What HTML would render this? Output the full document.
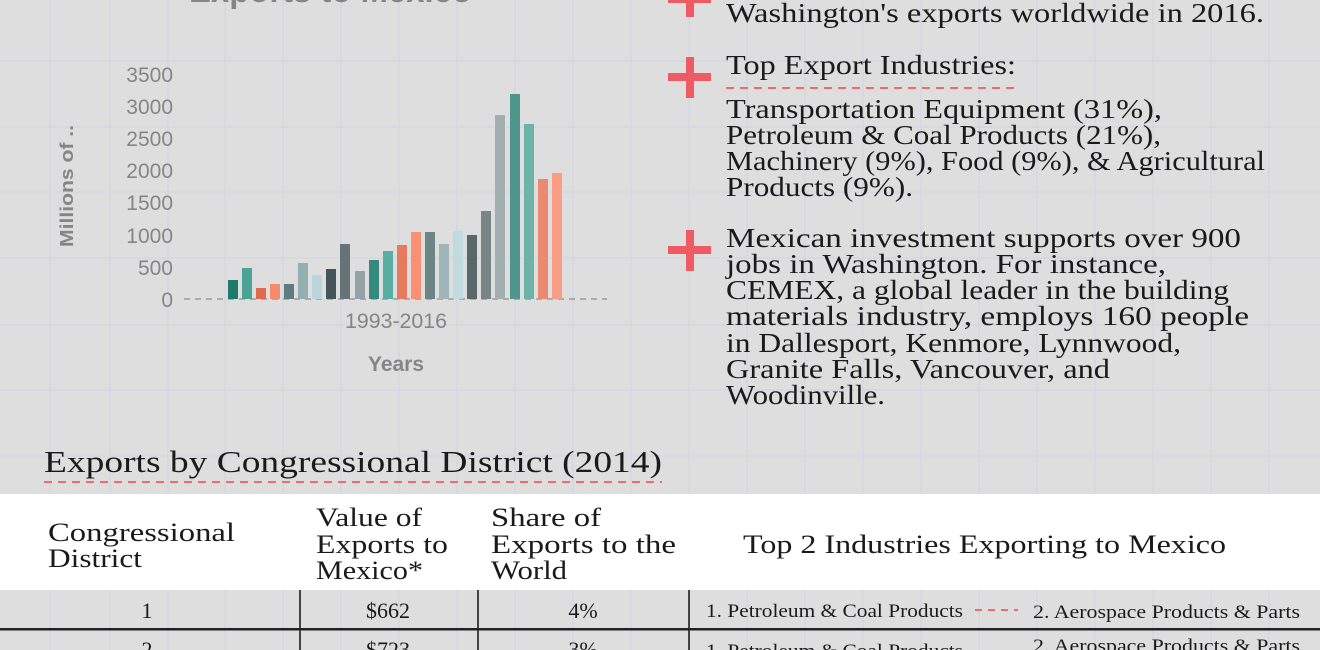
<!DOCTYPE html>
<html><head><meta charset="utf-8"><style>
html,body{margin:0;padding:0;background:#dedede;}
svg{display:block;}
.s{font-family:"Liberation Serif",serif;fill:#1a1a1a;}
.a{font-family:"Liberation Sans",sans-serif;fill:#858585;}
</style></head><body>
<svg width="1320" height="650" viewBox="0 0 1320 650" xmlns="http://www.w3.org/2000/svg">
<rect width="1320" height="650" fill="#dedede"/>
<g stroke="#d6d6e0" stroke-width="1.5">
<line x1="50" y1="0" x2="50" y2="650"/><line x1="110" y1="0" x2="110" y2="650"/><line x1="168" y1="0" x2="168" y2="650"/><line x1="225" y1="0" x2="225" y2="650"/><line x1="283" y1="0" x2="283" y2="650"/><line x1="341" y1="0" x2="341" y2="650"/><line x1="399" y1="0" x2="399" y2="650"/><line x1="457" y1="0" x2="457" y2="650"/><line x1="515" y1="0" x2="515" y2="650"/><line x1="573" y1="0" x2="573" y2="650"/><line x1="631" y1="0" x2="631" y2="650"/><line x1="689" y1="0" x2="689" y2="650"/><line x1="747" y1="0" x2="747" y2="650"/><line x1="805" y1="0" x2="805" y2="650"/><line x1="863" y1="0" x2="863" y2="650"/><line x1="921" y1="0" x2="921" y2="650"/><line x1="979" y1="0" x2="979" y2="650"/><line x1="1037" y1="0" x2="1037" y2="650"/><line x1="1095" y1="0" x2="1095" y2="650"/><line x1="1153" y1="0" x2="1153" y2="650"/><line x1="1211" y1="0" x2="1211" y2="650"/><line x1="1269" y1="0" x2="1269" y2="650"/>
<line x1="0" y1="61" x2="1320" y2="61"/><line x1="0" y1="127" x2="1320" y2="127"/><line x1="0" y1="192" x2="1320" y2="192"/><line x1="0" y1="258" x2="1320" y2="258"/><line x1="0" y1="325" x2="1320" y2="325"/><line x1="0" y1="390" x2="1320" y2="390"/><line x1="0" y1="456" x2="1320" y2="456"/>
</g>
<!-- chart -->
<text class="a" x="189" y="2" font-size="34" font-weight="bold" textLength="283" lengthAdjust="spacingAndGlyphs">Exports to Mexico</text>
<g class="a" font-size="21" text-anchor="end">
<text x="173" y="82">3500</text><text x="173" y="114">3000</text><text x="173" y="146">2500</text><text x="173" y="178">2000</text><text x="173" y="210">1500</text><text x="173" y="243">1000</text><text x="173" y="275">500</text><text x="173" y="307">0</text>
</g>
<text class="a" font-size="18" font-weight="bold" transform="translate(73,186) rotate(-90)" text-anchor="middle" textLength="122" lengthAdjust="spacingAndGlyphs">Millions of ..</text>
<text class="a" x="396" y="328" font-size="21" text-anchor="middle" textLength="102" lengthAdjust="spacingAndGlyphs">1993-2016</text>
<text class="a" x="396" y="371" font-size="21" font-weight="bold" text-anchor="middle" textLength="56" lengthAdjust="spacingAndGlyphs">Years</text>
<line x1="184" y1="299" x2="607" y2="299" stroke="#9a9a9a" stroke-width="1.5" stroke-dasharray="6,5"/>
<g>
<rect x="228" y="280" width="10" height="19" fill="#1f7a6e"/>
<rect x="242" y="268" width="10" height="31" fill="#4ba396"/>
<rect x="256" y="288" width="10" height="11" fill="#e06a4f"/>
<rect x="270" y="284" width="10" height="15" fill="#f58a6c"/>
<rect x="284" y="284" width="10" height="15" fill="#5d7d80"/>
<rect x="298" y="263" width="10" height="36" fill="#94afb2"/>
<rect x="312" y="275" width="10" height="24" fill="#b9d6da"/>
<rect x="326" y="269" width="10" height="30" fill="#435558"/>
<rect x="340" y="244" width="10" height="55" fill="#667478"/>
<rect x="355" y="271" width="10" height="28" fill="#95a3a6"/>
<rect x="369" y="260" width="10" height="39" fill="#358a7e"/>
<rect x="383" y="251" width="10" height="48" fill="#5aada2"/>
<rect x="397" y="245" width="10" height="54" fill="#e57a5e"/>
<rect x="411" y="232" width="10" height="67" fill="#f98f73"/>
<rect x="425" y="232" width="10" height="67" fill="#6b8585"/>
<rect x="439" y="244" width="10" height="55" fill="#9fb6b9"/>
<rect x="453" y="231" width="10" height="68" fill="#c1dadd"/>
<rect x="467" y="235" width="10" height="64" fill="#586868"/>
<rect x="481" y="211" width="10" height="88" fill="#788585"/>
<rect x="495" y="115" width="10" height="184" fill="#a3aeae"/>
<rect x="510" y="94" width="10" height="205" fill="#4d968b"/>
<rect x="524" y="124" width="10" height="175" fill="#6db3a8"/>
<rect x="538" y="179" width="10" height="120" fill="#eb8a70"/>
<rect x="552" y="173" width="10" height="126" fill="#f99e84"/>
</g>
<!-- plus icons -->
<g fill="#ef5b63">
<rect x="686" y="-25" width="8" height="42"/><rect x="668" y="-5" width="43" height="8"/>
<rect x="686" y="57" width="8" height="41"/><rect x="668" y="73" width="43" height="8"/>
<rect x="686" y="230" width="8" height="41"/><rect x="668" y="246" width="43" height="8"/>
</g>
<g class="s" font-size="27">
<text x="726" y="22" textLength="538" lengthAdjust="spacingAndGlyphs">Washington's exports worldwide in 2016.</text>
<text x="726" y="74" textLength="290" lengthAdjust="spacingAndGlyphs">Top Export Industries:</text>
<text x="726" y="118" textLength="436" lengthAdjust="spacingAndGlyphs">Transportation Equipment (31%),</text>
<text x="726" y="144" textLength="435" lengthAdjust="spacingAndGlyphs">Petroleum &amp; Coal Products (21%),</text>
<text x="726" y="170" textLength="539" lengthAdjust="spacingAndGlyphs">Machinery (9%), Food (9%), &amp; Agricultural</text>
<text x="726" y="196" textLength="187" lengthAdjust="spacingAndGlyphs">Products (9%).</text>
<text x="726" y="247" textLength="515" lengthAdjust="spacingAndGlyphs">Mexican investment supports over 900</text>
<text x="726" y="273" textLength="440" lengthAdjust="spacingAndGlyphs">jobs in Washington. For instance,</text>
<text x="726" y="299" textLength="503" lengthAdjust="spacingAndGlyphs">CEMEX, a global leader in the building</text>
<text x="726" y="325" textLength="523" lengthAdjust="spacingAndGlyphs">materials industry, employs 160 people</text>
<text x="726" y="352" textLength="455" lengthAdjust="spacingAndGlyphs">in Dallesport, Kenmore, Lynnwood,</text>
<text x="726" y="378" textLength="384" lengthAdjust="spacingAndGlyphs">Granite Falls, Vancouver, and</text>
<text x="726" y="404" textLength="159" lengthAdjust="spacingAndGlyphs">Woodinville.</text>
</g>
<line x1="726" y1="88" x2="1016" y2="88" stroke="#f26b6b" stroke-width="2" stroke-dasharray="8,6"/>
<!-- table -->
<text class="s" x="44" y="472" font-size="31" textLength="618" lengthAdjust="spacingAndGlyphs">Exports by Congressional District (2014)</text>
<line x1="44" y1="482" x2="662" y2="482" stroke="#f26b6b" stroke-width="2" stroke-dasharray="8,6"/>
<rect x="0" y="494" width="1320" height="96" fill="#ffffff"/>
<g class="s" font-size="26">
<text x="48" y="541" textLength="187" lengthAdjust="spacingAndGlyphs">Congressional</text>
<text x="48" y="567" textLength="94" lengthAdjust="spacingAndGlyphs">District</text>
<text x="316" y="526" textLength="106" lengthAdjust="spacingAndGlyphs">Value of</text>
<text x="316" y="553" textLength="132" lengthAdjust="spacingAndGlyphs">Exports to</text>
<text x="316" y="579" textLength="107" lengthAdjust="spacingAndGlyphs">Mexico*</text>
<text x="491" y="526" textLength="110" lengthAdjust="spacingAndGlyphs">Share of</text>
<text x="491" y="553" textLength="185" lengthAdjust="spacingAndGlyphs">Exports to the</text>
<text x="491" y="579" textLength="76" lengthAdjust="spacingAndGlyphs">World</text>
<text x="743" y="553" textLength="483" lengthAdjust="spacingAndGlyphs">Top 2 Industries Exporting to Mexico</text>
</g>
<g stroke="#111" stroke-width="1.5">
<line x1="300" y1="590" x2="300" y2="650"/><line x1="478" y1="590" x2="478" y2="650"/><line x1="689" y1="590" x2="689" y2="650"/>
</g>
<rect x="0" y="628" width="1320" height="2.5" fill="#222"/>
<g class="s" font-size="22">
<text x="147" y="618" text-anchor="middle">1</text>
<text x="388" y="618" text-anchor="middle">$662</text>
<text x="583" y="618" text-anchor="middle">4%</text>
<text x="147" y="657" text-anchor="middle">2</text>
<text x="388" y="657" text-anchor="middle">$723</text>
<text x="583" y="657" text-anchor="middle">3%</text>
</g>
<g class="s" font-size="19">
<text x="706" y="617" textLength="257" lengthAdjust="spacingAndGlyphs">1. Petroleum &amp; Coal Products</text>
<text x="1033" y="618" textLength="267" lengthAdjust="spacingAndGlyphs">2. Aerospace Products &amp; Parts</text>
<text x="706" y="657" textLength="257" lengthAdjust="spacingAndGlyphs">1. Petroleum &amp; Coal Products</text>
<text x="1033" y="652" textLength="267" lengthAdjust="spacingAndGlyphs">2. Aerospace Products &amp; Parts</text>
</g>
<line x1="975" y1="610" x2="1018" y2="610" stroke="#f26b6b" stroke-width="2" stroke-dasharray="7,6"/>
</svg>
</body></html>
